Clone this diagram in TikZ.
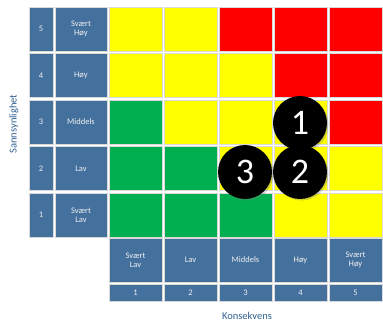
\documentclass[tikz,border=0pt]{standalone}
\usepackage{fontspec}
\setmainfont{Carlito}
\usetikzlibrary{shadows}
\definecolor{hdrblue}{HTML}{44709D}
\definecolor{axisblue}{HTML}{2F5F8F}
\definecolor{rgreen}{HTML}{00B050}
\definecolor{ryellow}{HTML}{FFFF00}
\definecolor{rred}{HTML}{FF0000}
\tikzset{
  hdr/.style={draw=gray!30, line width=0.8pt, fill=hdrblue, text=white!88!gray,
    font=\fontsize{8.5}{9}\selectfont, align=center, inner sep=0pt},
  risk/.style={draw=gray!30, line width=0.8pt, minimum width=53pt, minimum height=44pt, inner sep=0pt},
  marker/.style={circle, fill=black, minimum size=54pt, inner sep=0pt, text=white,
    font=\fontsize{36}{36}\selectfont, drop shadow={opacity=0.35, shadow xshift=1.5pt, shadow yshift=-1.5pt}}
}
\begin{document}
\begin{tikzpicture}[x=1pt, y=1pt]
  \useasboundingbox (0,0) rectangle (383,327);
  % likelihood axis (rows)
  \node[hdr, minimum width=24pt, minimum height=44pt] (n5) at (41,298) {5};
  \node[hdr, minimum width=24pt, minimum height=44pt] (n4) at (41,251.5) {4};
  \node[hdr, minimum width=24pt, minimum height=44pt] (n3) at (41,205) {3};
  \node[hdr, minimum width=24pt, minimum height=44pt] (n2) at (41,158.5) {2};
  \node[hdr, minimum width=24pt, minimum height=44pt] (n1) at (41,112) {1};
  \node[hdr, minimum width=52pt, minimum height=44pt] (l5) at (81,298) {Svært\\Høy};
  \node[hdr, minimum width=52pt, minimum height=44pt] (l4) at (81,251.5) {Høy};
  \node[hdr, minimum width=52pt, minimum height=44pt] (l3) at (81,205) {Middels};
  \node[hdr, minimum width=52pt, minimum height=44pt] (l2) at (81,158.5) {Lav};
  \node[hdr, minimum width=52pt, minimum height=44pt] (l1) at (81,112) {Svært\\Lav};
  \node[rotate=90, text=axisblue, font=\fontsize{10.5}{10.5}\selectfont] (ylab) at (14,203) {Sannsynlighet};
  % consequence axis (columns)
  \node[hdr, minimum width=53pt, minimum height=44pt] (k1) at (135.5,67) {Svært\\Lav};
  \node[hdr, minimum width=53pt, minimum height=44pt] (k2) at (190.5,67) {Lav};
  \node[hdr, minimum width=53pt, minimum height=44pt] (k3) at (245.5,67) {Middels};
  \node[hdr, minimum width=53pt, minimum height=44pt] (k4) at (300.5,67) {Høy};
  \node[hdr, minimum width=53pt, minimum height=44pt] (k5) at (355.5,67) {Svært\\Høy};
  \foreach \c/\x in {1/135.5, 2/190.5, 3/245.5, 4/300.5, 5/355.5}
    \node[hdr, minimum width=53pt, minimum height=17pt] (m\c) at (\x,34.5) {\c};
  \node[text=axisblue, font=\fontsize{10.5}{10.5}\selectfont] (xlab) at (247,11) {Konsekvens};
  % risk cells, row by row
  \foreach \r/\y/\cols in {5/298/{ryellow,ryellow,rred,rred,rred},
                           4/251.5/{ryellow,ryellow,ryellow,rred,rred},
                           3/205/{rgreen,ryellow,ryellow,ryellow,rred},
                           2/158.5/{rgreen,rgreen,ryellow,ryellow,ryellow},
                           1/112/{rgreen,rgreen,rgreen,ryellow,ryellow}}
    \foreach \col [count=\c] in \cols
      \node[risk, fill=\col] (c\r\c) at (80.5+\c*55,\y) {};
  % risk markers
  \node[marker] (r1) at (300,204) {1};
  \node[marker] (r3) at (245,155) {3};
  \node[marker] (r2) at (300,155) {2};
\end{tikzpicture}
\end{document}
